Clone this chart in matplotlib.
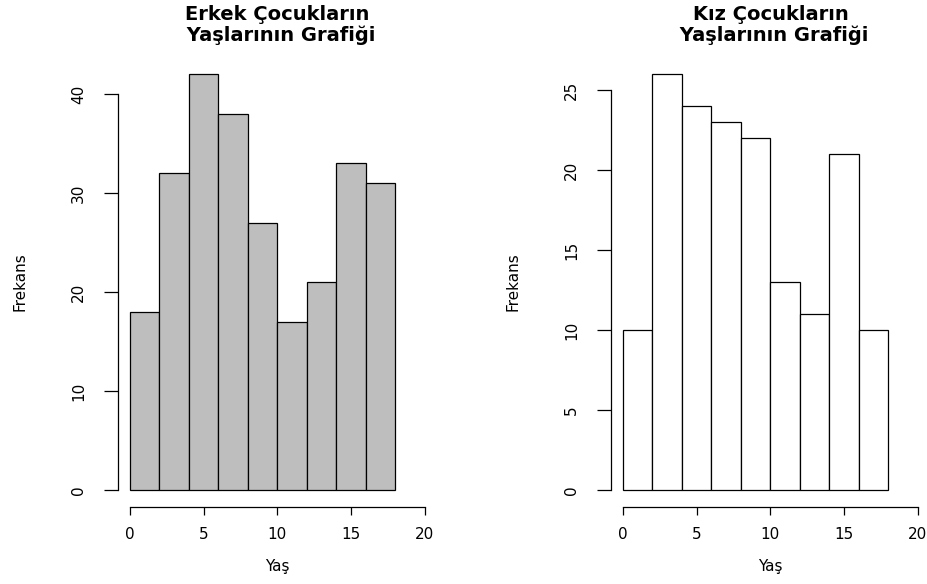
import matplotlib
matplotlib.use("Agg")
import matplotlib.pyplot as plt
import numpy as np

# age bins (Yaş) and counts
breaks = np.arange(0, 19, 2)
erkek_counts = [18, 32, 42, 38, 27, 17, 21, 33, 31]
kiz_counts = [10, 26, 24, 23, 22, 13, 11, 21, 10]

erkek_yticks = [0, 10, 20, 30, 40]
kiz_yticks = [0, 5, 10, 15, 20, 25]
xticks = [0, 5, 10, 15, 20]

titles = ["Erkek Çocukların\n Yaşlarının Grafiği", "Kız Çocukların\n Yaşlarının Grafiği"]

plt.rcParams["font.family"] = ["DejaVu Sans"]

fig = plt.figure(figsize=(9.28, 5.84), dpi=100)
W, H = 928.0, 584.0

panels = [
    (118.2, erkek_counts, erkek_yticks, "#BEBEBE", titles[0]),
    (611.2, kiz_counts, kiz_yticks, "white", titles[1]),
]

for left_px, counts, yticks, fc, title in panels:
    ax = fig.add_axes([left_px / W, 1 - 506.6 / H, 318.4 / W, 449.0 / H])
    ax.bar(breaks[:-1], counts, width=2, align="edge", color=fc,
           edgecolor="black", linewidth=0.9)
    ymax = max(counts)
    ax.set_xlim(-0.8, 20.8)
    ax.set_ylim(-0.04 * ymax, 1.04 * ymax)

    for s in ["top", "right"]:
        ax.spines[s].set_visible(False)
    ax.spines["left"].set_bounds(yticks[0], yticks[-1])
    ax.spines["bottom"].set_bounds(xticks[0], xticks[-1])
    ax.spines["left"].set_linewidth(0.9)
    ax.spines["bottom"].set_linewidth(0.9)

    ax.set_xticks(xticks)
    ax.set_yticks(yticks)
    ax.tick_params(axis="x", length=5.8, width=0.9, pad=9, labelsize=11)
    ax.tick_params(axis="y", length=10, width=0.9, pad=13, labelsize=11)
    for lab in ax.get_yticklabels():
        lab.set_rotation(90)
        lab.set_va("center")

    ax.set_xlabel("Yaş", fontsize=11, va="center")
    ax.xaxis.set_label_coords(0.5, -0.1345)
    ax.set_ylabel("Frekans", fontsize=11, va="center")
    ax.yaxis.set_label_coords(-0.307, 0.5)

    fig.text((left_px + 159.2) / W, 1 - 25 / H, title, ha="center", va="center",
             multialignment="center", fontsize=14, fontweight="bold",
             linespacing=1.15)

fig.savefig("out.png", dpi=100)
